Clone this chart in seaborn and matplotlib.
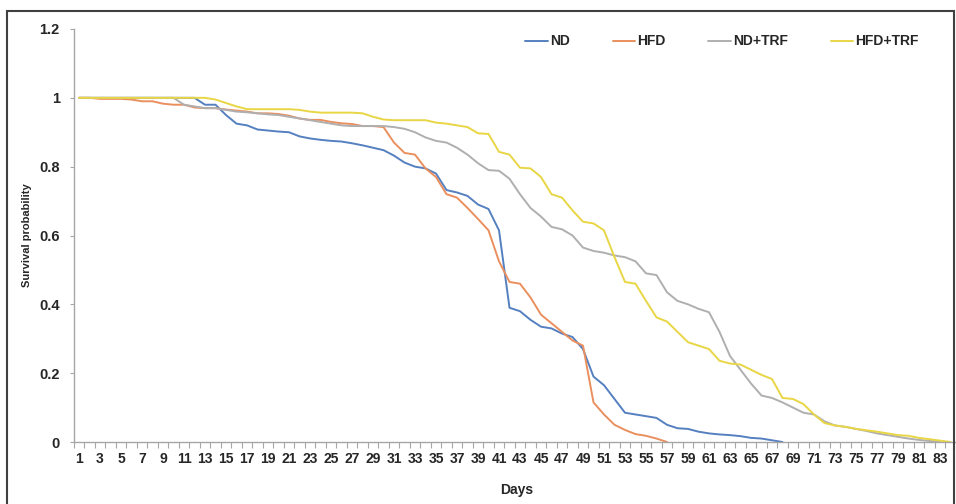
import numpy as np
import pandas as pd
import matplotlib
matplotlib.use('Agg')
import matplotlib.pyplot as plt
import seaborn as sns
from matplotlib.patches import Rectangle
from matplotlib.ticker import FixedLocator

# survival probability per day
nd = [1.0] * 12 + [
    0.98, 0.98, 0.95, 0.925, 0.92, 0.908, 0.905, 0.902, 0.90, 0.888,
    0.882, 0.878, 0.875, 0.873, 0.868, 0.862, 0.855, 0.848, 0.832, 0.812,
    0.80, 0.795, 0.78, 0.732, 0.725, 0.715, 0.69, 0.677, 0.615, 0.39,
    0.38, 0.355, 0.335, 0.33, 0.315, 0.305, 0.27, 0.19, 0.165, 0.125,
    0.085, 0.08, 0.075, 0.07, 0.05, 0.04, 0.038, 0.03, 0.025, 0.022,
    0.02, 0.017, 0.012, 0.01, 0.005, 0.0]
hfd = [
    1.0, 1.0, 0.997, 0.997, 0.997, 0.995, 0.99, 0.99, 0.983, 0.98,
    0.98, 0.972, 0.97, 0.97, 0.966, 0.963, 0.96, 0.955, 0.955, 0.953,
    0.948, 0.94, 0.936, 0.936, 0.93, 0.926, 0.924, 0.918, 0.918, 0.915,
    0.87, 0.84, 0.835, 0.795, 0.77, 0.72, 0.71, 0.68, 0.648, 0.615,
    0.525, 0.465, 0.46, 0.42, 0.37, 0.345, 0.32, 0.295, 0.28, 0.115,
    0.08, 0.05, 0.035, 0.023, 0.018, 0.01, 0.0]
nd_trf = [1.0] * 10 + [
    0.98, 0.975, 0.97, 0.97, 0.965, 0.96, 0.958, 0.955, 0.952, 0.95,
    0.945, 0.94, 0.935, 0.93, 0.925, 0.92, 0.918, 0.918, 0.918, 0.918,
    0.915, 0.91, 0.90, 0.885, 0.875, 0.87, 0.855, 0.835, 0.81, 0.79,
    0.788, 0.765, 0.72, 0.68, 0.655, 0.625, 0.618, 0.60, 0.565, 0.555,
    0.55, 0.542, 0.537, 0.525, 0.49, 0.485, 0.435, 0.41, 0.40, 0.387,
    0.377, 0.32, 0.25, 0.21, 0.17, 0.135, 0.128, 0.115, 0.10, 0.085,
    0.08, 0.06, 0.048, 0.044, 0.038, 0.032, 0.025, 0.02, 0.015, 0.01,
    0.006, 0.003, 0.0]
hfd_trf = [1.0] * 13 + [
    0.995, 0.985, 0.975, 0.967, 0.967, 0.967, 0.967, 0.967, 0.965, 0.96,
    0.957, 0.957, 0.957, 0.957, 0.955, 0.945, 0.937, 0.935, 0.935, 0.935,
    0.935, 0.928, 0.925, 0.92, 0.915, 0.897, 0.895, 0.843, 0.835, 0.797,
    0.795, 0.77, 0.72, 0.71, 0.673, 0.64, 0.635, 0.615, 0.537, 0.465,
    0.46, 0.41, 0.362, 0.35, 0.32, 0.29, 0.28, 0.27, 0.236, 0.228,
    0.225, 0.21, 0.195, 0.183, 0.128, 0.125, 0.11, 0.08, 0.055, 0.048,
    0.044, 0.038, 0.034, 0.03, 0.025, 0.02, 0.018, 0.012, 0.008, 0.004,
    0.0]

groups = ['ND', 'HFD', 'ND+TRF', 'HFD+TRF']
colors = ['#5580C0', '#EA8F5E', '#AFAFAF', '#E8D645']
series = [nd, hfd, nd_trf, hfd_trf]
n_days = 84
day_ticks = list(range(1, n_days + 1, 2))
day_labels = [str(d) for d in day_ticks]
y_ticks = [0, 0.2, 0.4, 0.6, 0.8, 1.0, 1.2]
y_labels = ['0', '0.2', '0.4', '0.6', '0.8', '1', '1.2']

rows = []
for g, vals in zip(groups, series):
    for i, v in enumerate(vals):
        rows.append({'Days': i + 1, 'prob': v, 'group': g})
df = pd.DataFrame(rows)

sns.set_style('white')
plt.rcParams['font.family'] = ['Liberation Sans', 'DejaVu Sans']

fig = plt.figure(figsize=(9.56, 5.04), dpi=100)
ax = fig.add_axes([73.75 / 956, 1 - 442 / 504, 882 / 956, 413 / 504])

sns.lineplot(data=df, x='Days', y='prob', hue='group', hue_order=groups,
             palette=colors, linewidth=1.4, ax=ax)

# axes like excel
ax.set_xlim(0.5, n_days + 0.5)
ax.set_ylim(0, 1.2)
ax.yaxis.set_major_locator(FixedLocator(y_ticks))
ax.set_yticklabels(y_labels, fontweight='bold')
ax.xaxis.set_major_locator(FixedLocator(day_ticks))
ax.set_xticklabels(day_labels, fontweight='bold')
ax.xaxis.set_minor_locator(FixedLocator(np.arange(0.5, n_days + 1, 1.0)))
ax.tick_params(axis='x', which='major', length=0, pad=7, labelsize=10,
               colors='#262626')
ax.tick_params(axis='x', which='minor', length=4, width=0.8, color='#A6A6A6',
               direction='out', bottom=True)
ax.tick_params(axis='y', length=3, width=0.8, color='#A6A6A6', direction='out',
               pad=7, labelsize=10.5, colors='#262626', left=True)
for s in ['top', 'right']:
    ax.spines[s].set_visible(False)
for s in ['left', 'bottom']:
    ax.spines[s].set_color('#A6A6A6')
    ax.spines[s].set_linewidth(1.0)
ax.set_xlabel('')
ax.set_ylabel('')

fig.text(517 / 956, 1 - 490 / 504, 'Days', ha='center', va='center',
         fontsize=10, fontweight='bold', color='#262626')
fig.text(27 / 956, 1 - 235 / 504, 'Survival probability', ha='center',
         va='center', rotation=90, fontsize=8, fontweight='bold',
         color='#262626')

leg = ax.legend(loc='center', bbox_to_anchor=(0.735, 0.97), ncol=4,
                frameon=False, prop={'size': 10, 'weight': 'bold'},
                handlelength=1.6, handletextpad=0.15, columnspacing=3.1)
for t in leg.get_texts():
    t.set_color('#262626')

# outer chart border
fig.patches.append(Rectangle((7 / 956, -0.01), 947 / 956, 1 - 11 / 504 + 0.01,
                             transform=fig.transFigure, fill=False,
                             edgecolor='#404040', linewidth=1.5))

fig.savefig('out.png', dpi=100)
